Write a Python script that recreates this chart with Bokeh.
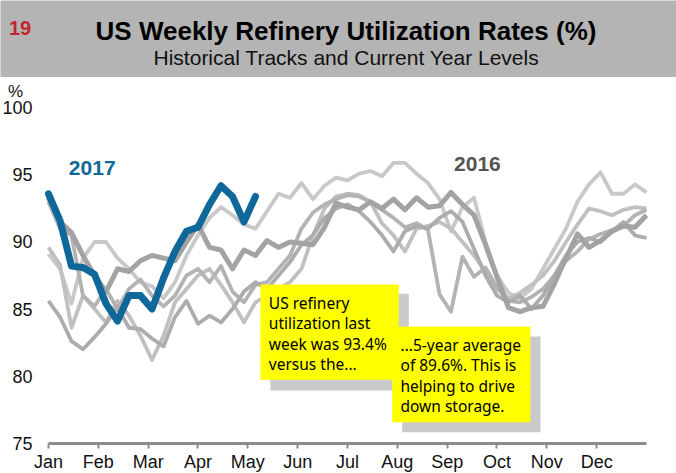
from bokeh.plotting import figure
from bokeh.models import Range1d, FixedTicker, CustomJSTickFormatter, Label, BoxAnnotation
from bokeh.layouts import column
from bokeh.embed import file_html
from bokeh.resources import INLINE
from bokeh.core.properties import value

# ---------------- data ----------------
months = ["Jan", "Feb", "Mar", "Apr", "May", "Jun", "Jul", "Aug", "Sep", "Oct", "Nov", "Dec"]
y_ticks = [75, 80, 85, 90, 95, 100]
weeks = list(range(53))

s2017 = [93.6, 91.6, 88.2, 88.1, 87.6, 85.4, 84.1, 86.0, 86.0, 85.0, 87.3, 89.3, 90.8, 91.1,
         92.8, 94.2, 93.4, 91.5, 93.4]

s2016 = [93.3, 91.5, 90.7, 89.0, 87.5, 86.3, 88.0, 87.8, 88.6, 89.0, 88.8, 88.6, 90.0,
         91.3, 89.6, 89.4, 88.0, 89.4, 89.0, 90.1, 89.6, 90.0, 89.9, 89.8, 91.1, 92.9, 92.6,
         92.4, 93.0, 92.5, 93.2, 92.4, 93.3, 92.6, 92.7,
         93.7, 92.8, 92.0, 89.8, 87.4, 85.1, 84.8, 85.1, 85.2, 86.9, 88.8, 90.6, 89.6, 90.1,
         90.8, 91.2, 91.1, 92.0]

s_b = [89.1, 88.0, 85.4, 88.8, 90.0, 90.0, 88.8, 88.0, 87.0, 86.7, 85.8, 87.0, 89.0,
       90.5, 91.8, 92.6, 92.0, 91.3, 91.0, 92.3, 93.6, 93.3, 94.4, 93.2, 94.2, 94.8,
       94.6, 95.1, 95.3, 94.9, 95.9, 95.9, 95.1, 94.4, 93.2, 90.8, 92.6, 93.3,
       90.0, 87.5, 86.2, 85.8, 86.5, 88.0, 89.5, 91.0, 93.0, 94.3, 95.2, 93.6, 93.6, 94.3, 93.7]

s_c = [93.0, 91.0, 90.5, 86.0, 85.2, 86.5, 85.0, 86.5, 87.2, 86.0, 85.2, 86.0, 87.5,
       88.0, 87.0, 88.2, 86.3, 85.5, 86.8, 87.0, 88.0, 89.0, 91.0, 92.2, 92.8, 93.2,
       93.5, 93.4, 93.0, 92.4, 91.8, 91.1, 91.4, 90.9, 86.1, 84.8, 88.9, 87.4, 88.1,
       86.6, 85.6, 85.5, 85.9, 86.5, 87.5, 88.6, 89.3, 90.2, 90.6, 90.9, 91.2, 92.0, 92.4]

s_d = [85.6, 84.4, 82.6, 82.0, 82.9, 83.9, 85.1, 83.6, 83.5, 82.8, 82.2, 84.4, 85.6,
       83.9, 84.5, 84.0, 85.0, 86.3, 87.0, 86.5, 87.5, 88.5, 89.8, 90.5, 91.8, 92.5,
       92.8, 92.3, 91.5, 90.5, 89.3, 90.8, 91.2, 91.0, 91.8, 92.3, 91.5, 89.5, 87.5,
       86.0, 85.5, 86.0, 85.0, 86.0, 87.5, 89.0, 90.0, 90.3, 90.0, 90.8, 91.5, 90.5, 90.3]

s_e = [89.6, 88.3, 83.6, 86.0, 85.0, 84.0, 85.6, 84.5, 83.0, 81.2, 83.0, 85.5, 86.5,
       87.5, 88.0, 86.8, 85.5, 84.0, 85.5, 86.0, 86.5, 87.0, 88.0, 90.5, 92.5, 93.4,
       93.6, 93.5, 93.0, 91.4, 90.5, 89.3, 91.0, 91.2, 91.5, 91.0, 90.0, 89.0, 87.8,
       86.5, 85.8, 86.2, 86.8, 87.5, 88.6, 90.0, 91.3, 92.5, 92.3, 92.0, 92.4, 92.6, 92.5]

history = [(s_b, "#c8c8c8"), (s_e, "#c0c0c0"), (s_c, "#b3b3b3"), (s_d, "#acacac")]

title_txt = "US Weekly Refinery Utilization Rates (%)"
subtitle_txt = "Historical Tracks and Current Year Levels"
note1 = "US refinery\nutilization last\nweek was 93.4%\nversus the..."
note2 = "...5-year average\nof 89.6%. This is\nhelping to drive\ndown storage."

FONT = "Liberation Sans"
W = 676

# ---------------- header ----------------
HDR_H = 77
hdr = figure(width=W, height=HDR_H, x_range=Range1d(0, W), y_range=Range1d(HDR_H, 0),
             toolbar_location=None, output_backend="svg", x_axis_type=None, y_axis_type=None,
             min_border=0)
hdr.background_fill_color = "#b4b4b4"
hdr.border_fill_color = "#b4b4b4"
hdr.outline_line_color = None
hdr.text(x=[8.5], y=[27.3], text=["19"], text_font=value(FONT), text_font_style="bold",
         text_font_size="20px", text_color="#c0282d", text_align="left", text_baseline="alphabetic")
hdr.text(x=[345.5], y=[30], text=[title_txt], text_font=value(FONT), text_font_style="bold",
         text_font_size="26px", text_color="#000000", text_align="center", text_baseline="alphabetic")
hdr.text(x=[346], y=[56.7], text=[subtitle_txt], text_font=value(FONT),
         text_font_size="21px", text_color="#111111", text_align="center", text_baseline="alphabetic")

# ---------------- main chart ----------------
p = figure(width=W, height=396, x_range=Range1d(-4.174, 54.61), y_range=Range1d(72.724, 102.276),
           toolbar_location=None, output_backend="svg", min_border=0)
p.outline_line_color = None
p.grid.visible = False
p.background_fill_color = "white"
p.border_fill_color = "white"

xa = p.xaxis[0]
xa.fixed_location = 75
xa.bounds = (0, 52)
xa.ticker = FixedTicker(ticks=[m * 52 / 12 for m in range(12)])
xa.formatter = CustomJSTickFormatter(args=dict(labels=months), code="return labels[index]")
xa.axis_line_color = "#8c8c8c"
xa.axis_line_width = 3
xa.major_tick_line_color = "#8c8c8c"
xa.major_tick_line_width = 2
xa.major_tick_out = 5
xa.major_tick_in = 0
xa.minor_tick_out = 0
xa.minor_tick_in = 0
xa.major_label_standoff = 4
xa.major_label_text_font = FONT
xa.major_label_text_font_size = "18px"
xa.major_label_text_color = "#111111"

ya = p.yaxis[0]
ya.fixed_location = 0
ya.ticker = FixedTicker(ticks=y_ticks)
ya.axis_line_color = None
ya.major_tick_line_color = None
ya.minor_tick_line_color = None
ya.major_tick_out = 0
ya.major_tick_in = 0
ya.major_label_standoff = 16
ya.major_label_text_font = FONT
ya.major_label_text_font_size = "18px"
ya.major_label_text_color = "#111111"

for series, col in history:
    p.line(weeks[:len(series)], series, line_color=col, line_width=3.8, line_join="round")
p.line(weeks[:len(s2016)], s2016, line_color="#a3a3a3", line_width=5, line_join="round")
p.line(weeks[:len(s2017)], s2017, line_color="#0f6899", line_width=7, line_join="round",
       line_cap="round")

p.add_layout(Label(x=-2.87, y=101.2, text="%", text_font=FONT, text_font_size="17px",
                   text_align="center", text_baseline="middle", text_color="#111111"))
p.add_layout(Label(x=3.8, y=95.5, text="2017", text_font=FONT, text_font_style="bold",
                   text_font_size="21px", text_align="center", text_baseline="middle",
                   text_color="#0f6899"))
p.add_layout(Label(x=37.3, y=95.8, text="2016", text_font=FONT, text_font_style="bold",
                   text_font_size="21px", text_align="center", text_baseline="middle",
                   text_color="#555555"))

# call-out boxes
p.add_layout(BoxAnnotation(left=19.30, right=31.33, top=86.13, bottom=78.92,
                           fill_color="#cacaca", fill_alpha=1, line_color=None))
p.add_layout(BoxAnnotation(left=18.43, right=30.46, top=86.83, bottom=79.72,
                           fill_color="#ffff00", fill_alpha=1, line_color=None))
p.add_layout(Label(x=19.16, y=86.25, text=note1, text_font="Noto Sans", text_font_size="15.5px",
                   text_line_height=0.92, text_baseline="top", text_align="left",
                   text_color="#000000"))
p.add_layout(BoxAnnotation(left=30.76, right=42.78, top=82.95, bottom=75.81,
                           fill_color="#cacaca", fill_alpha=1, line_color=None))
p.add_layout(BoxAnnotation(left=29.89, right=41.91, top=83.69, bottom=76.55,
                           fill_color="#ffff00", fill_alpha=1, line_color=None))
p.add_layout(Label(x=30.61, y=83.13, text=note2, text_font="Noto Sans", text_font_size="15.5px",
                   text_line_height=0.92, text_baseline="top", text_align="left",
                   text_color="#000000"))

layout = column(hdr, p, spacing=0)
open("out.html", "w").write(file_html(layout, INLINE))
